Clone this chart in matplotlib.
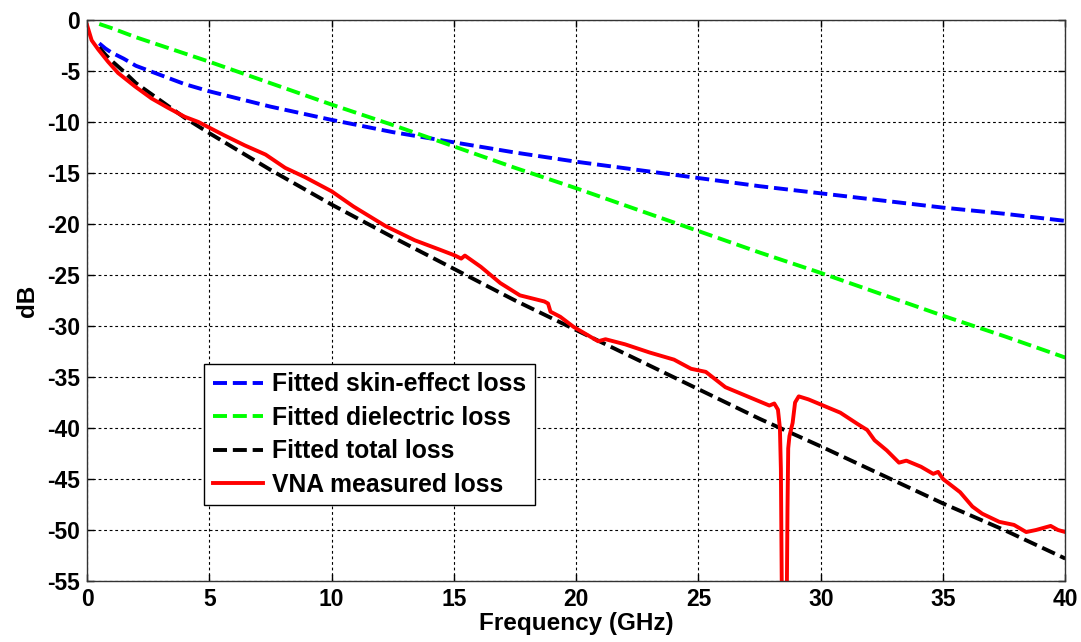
#!/usr/bin/env python3
"""Insertion loss: fitted skin-effect / dielectric / total vs VNA measurement"""
import numpy as np
import matplotlib.pyplot as plt

plt.rcParams['font.family'] = ['Liberation Sans', 'DejaVu Sans']
plt.rcParams['font.weight'] = 'bold'
plt.rcParams['axes.unicode_minus'] = False

# fitted curves (GHz, dB)
freq_fit = [0.5, 0.75, 1, 1.5, 2, 3, 4, 5, 7.5, 10, 12.5, 15, 17.5, 20, 22.5,
            25, 27.5, 30, 32.5, 35, 37.5, 40]
skin_loss = [-2.3, -2.8, -3.2, -3.8, -4.5, -5.4, -6.3, -7.0, -8.5, -9.8, -11.0,
             -12.0, -13.0, -13.9, -14.7, -15.5, -16.3, -17.0, -17.7, -18.4,
             -19.0, -19.7]
diel_loss = [-0.4, -0.6, -0.8, -1.25, -1.7, -2.5, -3.3, -4.1, -6.2, -8.3, -10.3,
             -12.4, -14.5, -16.5, -18.6, -20.7, -22.8, -24.8, -26.9, -29.0,
             -31.0, -33.1]
total_loss = [-2.7, -3.4, -4.0, -5.05, -6.2, -7.9, -9.6, -11.1, -14.7, -18.1,
              -21.3, -24.4, -27.5, -30.4, -33.3, -36.2, -39.1, -41.8, -44.6,
              -47.4, -50.0, -52.8]

# VNA measurement
freq_vna = [0.0, 0.19, 0.46, 0.86, 1.27, 1.95, 2.64, 3.3, 4.0, 4.55, 4.95,
            5.6, 6.45, 7.3, 8.1, 8.9, 10.0, 10.9, 12.2, 13.4, 14.4, 15.05,
            15.3, 15.45, 16.1, 16.9, 17.7, 18.7, 18.85, 18.95, 19.35, 19.9,
            20.9, 21.2, 22.0, 23.0, 24.0, 24.7, 25.3, 26.1, 26.9, 27.5, 27.9,
            28.1, 28.25, 28.33, 28.37, 28.42, 28.6, 28.64, 28.67, 28.72,
            28.85, 28.95, 29.1, 29.5, 30.0, 30.8, 31.5, 31.9, 32.2, 32.7,
            33.2, 33.5, 34.1, 34.6, 34.8, 35.0, 35.7, 36.2, 36.6, 37.3, 37.9,
            38.4, 38.8, 39.4, 39.7, 40.0]
vna_loss = [-0.5, -2.0, -2.9, -4.1, -5.2, -6.5, -7.7, -8.6, -9.5, -10.0, -10.5,
            -11.3, -12.3, -13.2, -14.5, -15.4, -16.8, -18.3, -20.2, -21.6, -22.5,
            -23.1, -23.4, -23.1, -24.2, -25.8, -27.0, -27.6, -27.8, -28.6, -29.1,
            -30.1, -31.5, -31.3, -31.8, -32.6, -33.3, -34.2, -34.5, -36.0, -36.8,
            -37.4, -37.8, -37.6, -38.2, -40.0, -44.0, -60.0, -60.0, -48.0, -42.0,
            -40.8, -39.5, -37.5, -36.9, -37.2, -37.7, -38.5, -39.6, -40.2, -41.2,
            -42.2, -43.4, -43.2, -43.8, -44.5, -44.3, -45.0, -46.3, -47.7, -48.4,
            -49.2, -49.5, -50.2, -50.0, -49.6, -50.0, -50.2]

fig = plt.figure(figsize=(10.81, 6.42), dpi=100)
ax = fig.add_axes([0.0805, 0.095, 0.905, 0.874])

lw = 2.8
dash = (3.6, 1.5)
ax.plot(freq_fit, skin_loss, c=(0, 0, 1), lw=lw, dashes=dash,
        label='Fitted skin-effect loss')
ax.plot(freq_fit, diel_loss, c=(0, 1, 0), lw=lw, dashes=dash,
        label='Fitted dielectric loss')
ax.plot(freq_fit, total_loss, c='k', lw=lw, dashes=dash,
        label='Fitted total loss')
ax.plot(freq_vna, vna_loss, c=(1, 0, 0), lw=lw, label='VNA measured loss')

ax.set_xlim(0, 40)
ax.set_ylim(-55, 0)
ax.set_xticks(np.arange(0, 41, 5))
ax.set_yticks(np.arange(-55, 1, 5))
ax.tick_params(direction='in', length=5, width=1, top=True, right=True,
               labelsize=16.5)
ax.tick_params(axis='x', pad=5)
ax.tick_params(axis='y', pad=5)
for lbl in ax.get_xticklabels() + ax.get_yticklabels():
    lbl.set_fontweight('bold')
ax.grid(True, color='k', linestyle=(0, (2.5, 2.5)), linewidth=0.8)
for s in ax.spines.values():
    s.set_color('#333333')
    s.set_linewidth(1)

ax.set_xlabel('Frequency (GHz)', fontsize=17.5, fontweight='bold', labelpad=1)
ax.set_ylabel('dB', fontsize=17.5, fontweight='bold', labelpad=6)

leg = ax.legend(loc='lower left', bbox_to_anchor=(0.12, 0.135), fontsize=17.8,
                fancybox=False, framealpha=1, edgecolor='k',
                handlelength=2.0, labelspacing=0.38, borderpad=0.35,
                handletextpad=0.4, borderaxespad=0)
leg.get_frame().set_linewidth(1)

plt.savefig('out.png', dpi=100)
